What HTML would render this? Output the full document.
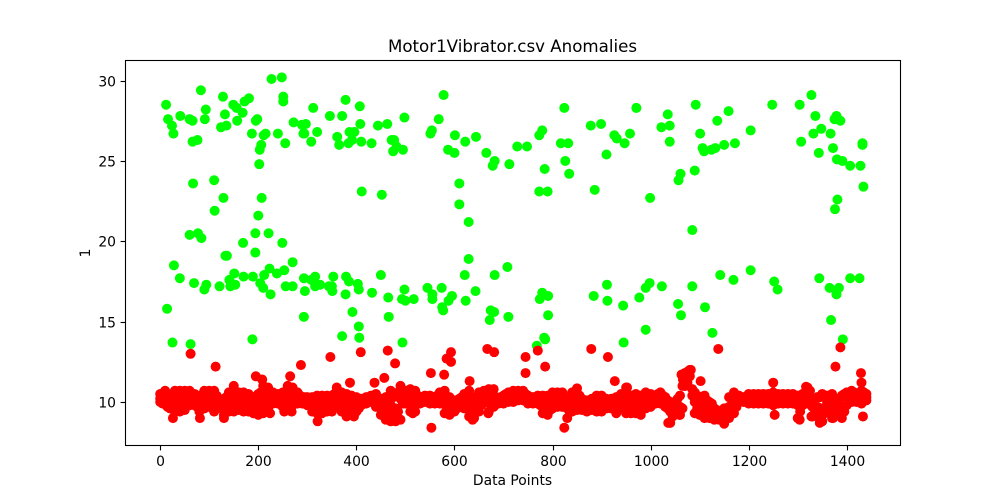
<!DOCTYPE html>
<html lang="en">
<head>
<meta charset="utf-8">
<title>Motor1Vibrator.csv Anomalies</title>
<style>
html,body{margin:0;padding:0;background:#fff;width:1000px;height:500px;overflow:hidden}
svg{display:block}
text{font-family:"DejaVu Sans","Liberation Sans",sans-serif;fill:#000}
</style>
</head>
<body>
<svg id="chart" xmlns="http://www.w3.org/2000/svg" width="1000" height="500" viewBox="0 0 1000 500">
  <rect x="0" y="0" width="1000" height="500" fill="#fff"/>
  <g id="green-points"></g>
  <g id="red-points"></g>
  <rect x="125.5" y="60.5" width="775" height="385" fill="none" stroke="#000" stroke-width="1.1"/>
  <g id="x-axis"></g>
  <g id="y-axis"></g>
  <text x="512.5" y="52" font-size="16.67" text-anchor="middle">Motor1Vibrator.csv Anomalies</text>
  <text x="512.5" y="485" font-size="13.89" text-anchor="middle">Data Points</text>
  <text x="0" y="0" font-size="13.89" text-anchor="middle" transform="translate(90 253) rotate(-90)">1</text>
</svg>
<script>
const xTickValues = [0,200,400,600,800,1000,1200,1400];
const yTickValues = [10,15,20,25,30];

const greenX = [
12,16,24,27,41,60,66,66,76,83,
93,91,128,132,135,124,149,156,168,157,
172,181,187,198,195,206,203,202,211,215,
240,255,227,248,251,251,272,289,297,292,
294,320,308,312,346,371,378,407,408,361,
365,384,391,386,396,410,431,444,463,498,
472,477,482,475,495,568,554,551,578,601,
587,600,622,644,665,682,678,712,728,748,
67,110,129,207,411,452,610,610,773,779,
824,817,832,784,826,834,773,790,878,899,
926,931,947,958,971,910,886,999,1035,1022,
1039,1039,1092,1101,1136,1159,1106,1109,1124,1132,
1150,1172,1204,1248,1304,1328,1336,1379,1375,1387,
1348,1332,1367,1307,1343,1372,1432,1432,1380,1391,
1407,1428,1434,1381,1061,1057,1090,629,200,111,
60,77,84,194,221,169,249,133,136,194,
629,28,270,40,69,94,90,121,151,141,
153,143,170,189,212,223,238,253,204,210,
225,256,270,293,308,316,326,316,295,344,
350,351,353,379,385,378,403,405,432,450,
465,498,493,500,517,545,555,555,574,595,
588,575,577,623,643,621,682,708,674,681,
672,710,14,293,466,392,405,406,371,494,
188,25,62,1085,1376,1142,1169,1204,1252,1259,
1344,1407,1426,1365,1384,1379,1085,1056,1062,1111,
1126,1368,1392,1023,998,990,977,944,990,945,
911,884,912,779,791,774,791,783,785,768
];
const greenY = [
28.5,27.6,27.2,26.7,27.8,27.6,27.5,26.2,26.3,29.4,
28.2,27.6,29.0,27.9,27.2,27.1,28.5,28.3,28.0,27.5,
28.7,28.9,26.7,27.6,27.5,26.0,25.7,24.8,26.6,26.7,
26.7,26.1,30.1,30.2,29.0,28.7,27.4,27.25,27.3,26.7,
26.7,26.8,26.2,28.3,27.8,27.8,28.8,28.4,27.3,26.5,
26.0,26.1,26.3,26.8,26.8,26.2,26.1,27.2,27.3,27.7,
26.3,26.3,25.9,25.6,25.7,27.6,26.9,26.7,29.1,26.6,
25.7,25.5,26.2,26.5,25.5,25.0,24.7,24.8,25.9,25.9,
23.6,23.8,22.7,22.7,23.1,22.9,23.6,22.3,26.6,26.9,
28.3,26.1,26.1,24.5,25.0,24.2,23.1,23.1,27.2,27.3,
26.6,26.4,26.1,26.7,28.3,25.4,23.2,22.7,27.9,27.1,
27.2,26.2,28.5,26.7,27.5,28.1,25.8,25.6,25.7,25.8,
26.0,26.1,26.9,28.5,28.5,29.1,27.8,27.8,27.6,27.5,
27.0,26.7,26.7,26.2,25.5,25.8,26.1,26.0,25.1,25.0,
24.7,24.7,23.4,22.6,24.2,23.8,24.4,21.2,21.6,21.9,
20.4,20.5,20.2,20.5,20.5,19.9,19.9,19.1,19.1,19.3,
18.9,18.5,18.7,17.7,17.4,17.3,17.0,17.2,18.0,17.6,
17.3,17.2,17.8,17.8,17.9,18.3,18.0,18.2,17.4,17.1,
16.7,17.2,17.2,17.7,17.6,17.8,17.3,17.2,16.9,17.2,
17.2,16.9,17.8,17.8,17.5,16.7,17.35,17.0,16.8,17.9,
16.5,17.0,16.4,16.3,16.4,17.1,16.7,16.4,17.1,16.6,
16.3,15.9,15.7,16.3,16.9,17.9,17.9,18.4,15.7,15.6,
15.1,15.3,15.8,15.3,15.3,15.6,14.7,14.0,14.1,13.7,
13.9,13.7,13.6,20.7,22.0,17.9,17.6,18.2,17.5,17.0,
17.7,17.7,17.7,17.1,17.1,16.7,17.2,16.1,15.4,15.9,
14.3,15.1,13.9,17.2,17.4,17.1,16.5,16.0,14.5,13.7,
17.3,16.6,16.3,16.8,16.6,16.4,15.4,14.0,13.9,13.5
];

const redOutlierX = [
62,113,195,208,287,347,265,409,464,479,
387,437,457,667,681,593,584,593,552,579,
631,745,770,785,745,879,913,927,952,553,
824,1138,1387,1377,1429,1430,1250,1102,253,268,
130,81,26,321,380,395,224,515,637,669,
1036,1059,1253,1304,1328,1345,1372,1389,1433,1436,1317,
1063,1066,1070,1076,1082,1070
];
const redOutlierY = [
13.0,12.2,11.6,11.4,12.3,12.8,11.6,13.1,13.2,12.4,
11.2,11.2,11.5,13.3,13.1,13.1,12.7,12.5,11.8,11.7,
11.3,12.8,13.2,12.2,11.8,13.3,12.8,11.3,10.9,8.4,
8.4,13.3,13.4,12.2,11.8,11.2,11.2,11.3,9.4,9.4,
9.0,9.0,9.0,8.8,9.1,9.1,9.3,9.3,8.9,9.3,
8.7,9.2,9.2,8.9,9.1,8.7,9.0,9.1,9.1,10.5,10.95,
11.7,11.4,11.8,11.9,12.0,11.0
];

const redBandX = [
0,10,20,30,40,50,60,70,80,90,
100,110,120,130,140,150,160,170,180,190,
200,210,220,230,240,250,260,270,280,290,
300,310,320,330,340,350,360,370,380,390,
400,410,420,430,440,450,460,470,480,490,
500,510,520,530,540,550,560,570,580,590,
600,610,620,630,640,650,660,670,680,690,
700,710,720,730,740,750,760,770,780,790,
800,810,820,830,840,850,860,870,880,890,
900,910,920,930,940,950,960,970,980,990,
1000,1010,1020,1030,1040,1050,1060,1070,1080,1090,
1100,1110,1120,1130,1140,1150,1160,1170,1180,1190,
1200,1210,1220,1230,1240,1250,1260,1270,1280,1290,
1300,1310,1320,1330,1340,1350,1360,1370,1380,1390,
1400,1410,1420,1430,1440
];
const redBandTop = [
10.5,10.7,10.3,10.7,10.7,10.7,10.7,10.5,10.4,10.7,
10.7,10.7,10.2,10.2,10.6,11.0,10.6,10.6,10.5,10.3,
10.5,11.0,10.9,10.6,10.5,10.6,11.0,10.9,10.6,10.3,
10.3,10.3,10.4,10.4,10.4,10.4,10.9,10.6,10.5,10.4,
10.3,10.2,10.3,10.4,10.5,10.2,10.3,10.7,10.4,11.0,
10.7,10.8,10.7,10.3,10.4,10.4,10.3,10.6,10.7,10.3,
10.1,10.2,10.5,10.7,10.2,10.6,10.7,10.8,10.8,10.1,
10.4,10.6,10.7,10.7,10.7,10.4,10.3,10.4,10.4,10.4,
10.6,10.6,10.6,10.1,10.6,10.85,10.2,10.1,10.2,10.4,
10.4,10.2,10.2,10.3,10.5,10.9,10.4,10.5,10.4,10.6,
10.5,10.4,10.6,10.3,10.0,10.0,10.4,11.8,12.0,10.6,
10.3,10.4,10.0,9.6,9.4,9.6,10.3,10.6,10.4,10.3,
10.5,10.5,10.5,10.5,10.5,10.6,10.5,10.5,10.5,10.5,
10.4,10.5,10.9,10.2,10.3,10.5,10.4,10.5,10.1,10.4,
10.6,10.7,10.5,10.7,10.5
];
const redBandMid = [
10.2,10.3,10.0,10.1,10.0,10.2,10.2,10.1,9.9,10.1,
10.2,10.1,10.0,9.7,10.0,10.2,10.1,10.0,10.0,9.8,
9.9,10.2,10.2,10.2,10.2,10.0,10.2,10.2,10.2,10.1,
10.1,9.9,9.9,9.9,9.9,10.0,10.2,10.0,9.8,9.8,
9.9,10.0,10.1,10.2,10.1,9.7,9.6,9.8,9.6,10.2,
10.3,10.3,10.2,10.1,10.2,10.1,10.1,10.2,10.0,9.9,
9.8,10.0,10.1,9.9,9.7,10.0,10.3,10.1,10.1,10.0,
10.2,10.3,10.4,10.4,10.4,10.2,10.1,10.2,9.9,9.8,
10.1,10.2,10.2,9.6,10.0,10.2,9.9,9.8,9.9,9.9,
9.9,9.9,9.9,9.8,10.1,10.1,9.9,9.9,9.8,10.1,
10.2,10.1,10.2,10.0,9.4,9.8,9.7,11.4,11.9,10.0,
9.8,9.7,9.5,9.2,9.1,9.1,9.7,9.9,10.2,10.2,
10.2,10.2,10.2,10.2,10.2,10.3,10.2,10.2,10.2,10.2,
9.8,10.1,10.3,9.7,9.7,9.6,10.0,9.8,9.8,9.7,
10.3,10.4,10.2,10.4,10.3
];
const redBandLow = [
10.0,9.9,9.6,9.4,9.4,9.5,9.8,9.8,9.4,9.6,
9.7,9.4,9.7,9.2,9.4,9.4,9.5,9.4,9.4,9.3,
9.2,9.3,9.6,9.9,9.9,9.7,9.8,9.8,9.9,9.9,
9.8,9.4,9.3,9.3,9.4,9.4,9.7,9.4,9.2,9.2,
9.4,9.8,9.9,10.0,9.7,9.2,8.9,8.8,8.8,8.9,
9.9,9.4,9.4,9.9,10.0,9.9,9.9,9.9,9.3,9.2,
9.4,9.7,9.6,9.1,9.0,9.4,10.0,9.4,9.7,9.9,
9.9,10.0,10.0,10.1,10.1,9.9,9.9,9.9,9.3,9.2,
9.6,9.7,9.7,9.0,9.4,9.5,9.5,9.4,9.5,9.4,
9.4,9.6,9.6,9.3,9.7,9.3,9.3,9.3,9.2,9.6,
9.7,9.9,9.9,9.7,8.7,9.6,9.2,11.0,11.6,9.3,
9.2,9.0,9.0,8.9,8.9,8.65,9.0,9.3,10.0,10.0,
9.9,9.9,9.9,9.9,9.9,9.8,9.9,9.9,9.9,9.9,
9.0,9.8,9.9,9.1,9.1,8.8,9.6,9.0,9.5,9.0,
9.8,10.0,10.0,9.9,10.1
];

const redInnerX = [
5,15,25,35,45,55,65,75,85,95,
105,115,125,135,145,155,165,175,185,195,
205,215,225,235,245,255,265,275,285,295,
305,315,325,335,345,355,365,375,385,395,
405,415,425,435,445,455,465,475,485,495,
505,515,525,535,545,555,565,575,585,595,
605,615,625,635,645,655,665,675,685,695,
705,715,725,735,745,755,765,775,785,795,
805,815,825,835,845,855,865,875,885,895,
905,915,925,935,945,955,965,975,985,995,
1005,1015,1025,1035,1045,1055,1065,1075,1085,1095,
1105,1115,1125,1135,1145,1155,1165,1175,1185,1195,
1205,1215,1225,1235,1245,1255,1265,1275,1285,1295,
1305,1315,1325,1335,1345,1355,1365,1375,1385,1395,
1405,1415,1425,1435
];
const redInnerUpper = [
10.5,10.4,10.4,10.4,10.5,10.5,10.4,10.3,10.4,10.5,
10.5,10.4,10.1,10.3,10.6,10.6,10.4,10.4,10.3,10.3,
10.6,10.7,10.5,10.4,10.4,10.6,10.7,10.6,10.4,10.3,
10.2,10.2,10.3,10.2,10.2,10.5,10.6,10.4,10.2,10.2,
10.1,10.2,10.3,10.4,10.2,10.1,10.3,10.3,10.6,10.7,
10.6,10.5,10.4,10.3,10.3,10.2,10.4,10.5,10.3,10.1,
10.0,10.3,10.4,10.3,10.3,10.5,10.6,10.5,10.3,10.3,
10.5,10.5,10.6,10.5,10.5,10.3,10.3,10.3,10.2,10.3,
10.4,10.4,10.3,10.3,10.5,10.4,10.0,10.0,10.2,10.2,
10.2,10.1,10.1,10.2,10.5,10.4,10.2,10.2,10.3,10.4,
10.4,10.5,10.4,10.1,9.9,10.2,11.0,11.6,10.8,10.4,
10.1,10.1,9.9,9.5,9.4,9.5,10.2,10.4,10.3,10.3,
10.4,10.4,10.4,10.4,10.4,10.4,10.4,10.4,10.4,10.4,
10.3,10.6,10.7,10.2,10.3,10.4,10.4,10.2,10.2,10.5,
10.5,10.6,10.5,10.6
];
const redInnerLower = [
9.9,9.7,9.7,9.6,9.7,9.8,9.9,9.7,9.7,9.8,
9.8,9.7,9.6,9.5,9.6,9.7,9.7,9.6,9.5,9.5,
9.6,9.7,9.9,10.0,9.9,9.8,9.9,10.0,10.0,9.9,
9.8,9.6,9.6,9.6,9.6,9.7,9.8,9.5,9.4,9.5,
9.6,9.9,10.0,10.0,9.7,9.4,9.3,9.3,9.4,9.9,
10.0,9.7,9.9,10.0,10.0,10.0,10.0,9.9,9.6,9.6,
9.6,9.8,9.7,9.4,9.5,9.8,10.0,9.8,9.9,10.0,
10.1,10.1,10.2,10.2,10.1,10.0,10.0,9.8,9.6,9.5,
9.8,9.9,9.7,9.4,9.7,9.8,9.7,9.6,9.7,9.7,
9.7,9.7,9.7,9.6,9.8,9.7,9.6,9.6,9.7,9.8,
9.9,10.0,9.9,9.6,9.1,9.7,9.6,11.2,10.4,9.6,
9.4,9.2,9.2,9.0,9.0,9.0,9.3,9.7,10.1,10.1,
10.0,10.0,10.0,10.0,10.0,10.0,10.0,10.0,10.0,10.0,
9.4,10.0,10.0,9.5,9.3,9.3,9.7,9.3,9.4,9.4,
10.1,10.1,10.1,10.1
];

const SVG_NS = 'http://www.w3.org/2000/svg';
function xScale(v){ return 160.2 + v * 0.4904; }
function yScale(v){ return 402 - (v - 10) * 16.07; }

function addPoint(parent, x, y, color, name){
  const c = document.createElementNS(SVG_NS, 'circle');
  c.setAttribute('cx', xScale(x).toFixed(2));
  c.setAttribute('cy', yScale(y).toFixed(2));
  c.setAttribute('r', '5');
  c.setAttribute('fill', color);
  
  
  parent.appendChild(c);
}

const greenGroup = document.getElementById('green-points');
greenX.forEach(function(x, i){ addPoint(greenGroup, x, greenY[i], '#00ff00', 'normal-point'); });

const redGroup = document.getElementById('red-points');
redBandX.forEach(function(x, i){
  addPoint(redGroup, x, redBandLow[i], '#ff0000', 'anomaly-point');
  addPoint(redGroup, x, redBandMid[i], '#ff0000', 'anomaly-point');
  addPoint(redGroup, x, redBandTop[i], '#ff0000', 'anomaly-point');
});
redInnerX.forEach(function(x, i){
  addPoint(redGroup, x, redInnerLower[i], '#ff0000', 'anomaly-point');
  addPoint(redGroup, x, redInnerUpper[i], '#ff0000', 'anomaly-point');
});
redOutlierX.forEach(function(x, i){ addPoint(redGroup, x, redOutlierY[i], '#ff0000', 'anomaly-point'); });

const xAxis = document.getElementById('x-axis');
xTickValues.forEach(function(v){
  const px = Math.round(xScale(v)) + 0.5;
  const line = document.createElementNS(SVG_NS, 'line');
  line.setAttribute('x1', px); line.setAttribute('x2', px);
  line.setAttribute('y1', 445.5); line.setAttribute('y2', 450.4);
  line.setAttribute('stroke', '#000'); line.setAttribute('stroke-width', '1.1');
  
  
  xAxis.appendChild(line);
  const t = document.createElementNS(SVG_NS, 'text');
  t.setAttribute('x', px); t.setAttribute('y', 466);
  t.setAttribute('font-size', '13.89'); t.setAttribute('text-anchor', 'middle');
  
  
  t.textContent = v;
  xAxis.appendChild(t);
});

const yAxis = document.getElementById('y-axis');
yTickValues.forEach(function(v){
  const py = Math.round(yScale(v)) + 0.5;
  const line = document.createElementNS(SVG_NS, 'line');
  line.setAttribute('x1', 120.6); line.setAttribute('x2', 125.5);
  line.setAttribute('y1', py); line.setAttribute('y2', py);
  line.setAttribute('stroke', '#000'); line.setAttribute('stroke-width', '1.1');
  
  
  yAxis.appendChild(line);
  const t = document.createElementNS(SVG_NS, 'text');
  t.setAttribute('x', 116); t.setAttribute('y', py + 5);
  t.setAttribute('font-size', '13.89'); t.setAttribute('text-anchor', 'end');
  
  
  t.textContent = v;
  yAxis.appendChild(t);
});
</script>
</body>
</html>
